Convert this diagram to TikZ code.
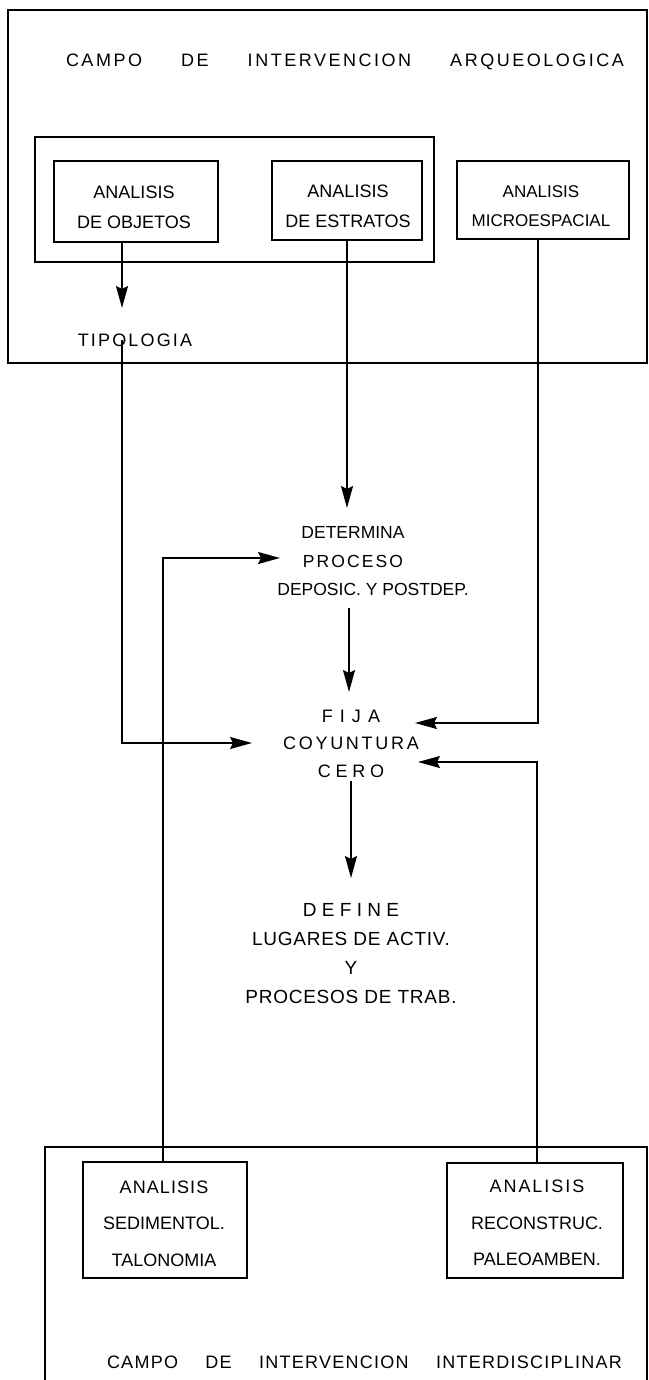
\documentclass[tikz,border=0pt]{standalone}
\usepackage{fontspec}
\setmainfont{Liberation Sans}
\usetikzlibrary{arrows.meta}
\newcommand{\trk}[2]{{\addfontfeature{LetterSpace=#1}#2}}
\begin{document}
\begin{tikzpicture}[x=1pt,y=-1pt,
  line width=1.9pt,
  boxn/.style={draw, line width=1.9pt, inner sep=0pt},
  txt/.style={align=center, inner sep=0pt, font=\fontsize{18}{30}\selectfont},
  arr/.style={-{Stealth[length=22pt,width=12pt,inset=3pt]}, line width=1.9pt}]
\fill[white] (0,0) rectangle (648,1380);
\useasboundingbox (0,0) rectangle (648,1380);

% ---------- archaeological field ----------
\node[boxn, minimum width=639pt, minimum height=353pt] (top) at (327.5,186.5) {};
\node[txt] (t1) at (345,62) {\trk{14}{\makebox[558pt][s]{CAMPO\hfill DE\hfill INTERVENCION\hfill ARQUEOLOGICA}}};
\node[boxn, minimum width=399pt, minimum height=125pt] (grp) at (234.5,199.5) {};
\node[boxn, minimum width=164pt, minimum height=81pt] (obj) at (136,201.5) {};
\node[txt] (objt) at (134,207) {ANALISIS\\DE OBJETOS};
\node[boxn, minimum width=150pt, minimum height=79pt] (est) at (347,200.5) {};
\node[txt] (estt) at (348,206.5) {ANALISIS\\DE ESTRATOS};
\node[boxn, minimum width=172pt, minimum height=78pt] (micro) at (543,200) {};
\node[txt, font=\fontsize{17}{29}\selectfont] (microt) at (541,206) {ANALISIS\\MICROESPACIAL};
\node[txt] (tipo) at (135,340) {\trk{12}{TIPOLOGIA}};

% ---------- middle texts ----------
\node[txt, font=\fontsize{17.5}{28.5}\selectfont] (det) at (373,561.5)
  {DETERMINA\rule{40pt}{0pt}\\\trk{12}{PROCESO}\rule{40pt}{0pt}\\DEPOSIC. Y POSTDEP.};
\node[txt, font=\fontsize{18}{27.5}\selectfont] (fija) at (351,743.5)
  {\trk{39}{FIJA}\\\trk{15}{COYUNTURA}\\\trk{26}{CERO}};
\node[txt, font=\fontsize{19}{29}\selectfont] (def) at (351,953.5)
  {\trk{28}{DEFINE}\\\trk{4}{LUGARES DE ACTIV.}\\Y\\\trk{4}{PROCESOS DE TRAB.}};

% ---------- interdisciplinary field ----------
\draw[line width=1.9pt] (45,1386) -- (45,1147) -- (647,1147) -- (647,1386);
\node[boxn, minimum width=164pt, minimum height=116pt] (sed) at (165,1220) {};
\node[txt, font=\fontsize{18}{36.5}\selectfont] (sedt) at (164,1223.5) {\trk{6}{ANALISIS}\\SEDIMENTOL.\\TALONOMIA};
\node[boxn, minimum width=176pt, minimum height=115pt] (paleo) at (535,1220.5) {};
\node[txt, font=\fontsize{18}{36.5}\selectfont] (paleot) at (537,1223) {\trk{11}{ANALISIS}\\RECONSTRUC.\\PALEOAMBEN.};
\node[txt] (t2) at (364.5,1362) {\trk{7}{\makebox[515pt][s]{CAMPO\hfill DE\hfill INTERVENCION\hfill INTERDISCIPLINAR}}};

% ---------- connector end points ----------
\coordinate (a1) at (122,308);
\coordinate (a2) at (252,743);
\coordinate (a3) at (347,508);
\coordinate (a4) at (349,692);
\coordinate (xm) at (538,0);
\coordinate (a5) at (415,723);
\coordinate (a6) at (351,878);
\coordinate (x7) at (163,0);
\coordinate (a7) at (280,558);
\coordinate (x8) at (537,0);
\coordinate (a8) at (418,762);

% ---------- connectors ----------
\draw[arr] (obj.south -| a1) -- (a1);
\draw[arr] (tipo.center -| a1) |- (a2);
\draw[arr] (est.south -| a3) -- (a3);
\draw[arr] ([yshift=-11pt]det.south -| a4) -- (a4);
\draw[arr] (micro.south -| xm) |- (a5);
\draw[arr] ([yshift=-3pt]fija.south -| a6) -- (a6);
\draw[arr] (sed.north -| x7) |- (a7);
\draw[arr] (paleo.north -| x8) |- (a8);
\end{tikzpicture}
\end{document}
